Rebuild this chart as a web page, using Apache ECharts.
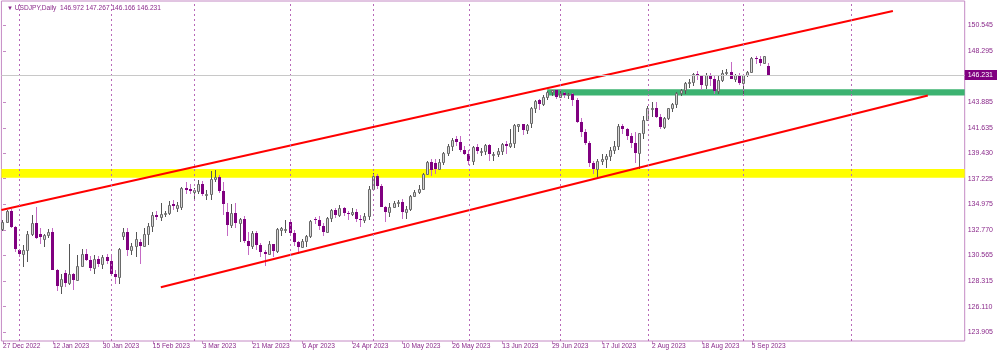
<!DOCTYPE html>
<html><head><meta charset="utf-8">
<script src="https://cdn.jsdelivr.net/npm/echarts@6/dist/echarts.min.js"></script>
<style>html,body{margin:0;padding:0;background:#fff}#c{width:1000px;height:354px}</style>
</head><body><div id="c"></div>
<script>
// USDJPY daily bars, 27 Dec 2022 .. 11 Sep 2023 (bar index = position)
const open  = [132.85,133.50,134.45,133.05, 131.00,130.65,131.00,132.45,133.40,132.45,132.00,132.35,132.55,129.25,127.90,129.00,128.15,128.90,128.45,129.60,130.70,130.20,129.45,130.25,129.85,130.40,
 130.10,128.95,128.65,132.20,132.60,131.05,131.40,131.70,131.35,132.45,133.15,134.10,133.90,134.15,134.25,135.05,134.70,134.75,136.45,136.30,
 136.10,136.15,136.75,135.85,135.90,137.20,137.35,136.15,134.35,133.20,134.20,133.40,133.75,131.85,131.40,132.50,131.45,130.85,130.70,131.55,130.90,132.80,132.75,
 133.45,132.50,131.70,131.30,131.80,132.20,133.75,133.65,133.10,132.60,133.80,134.50,134.10,134.70,134.20,134.15,134.35,133.70,133.65,133.95,
 136.30,137.45,136.60,134.80,134.30,134.80,135.10,135.20,134.30,134.55,135.70,136.10,136.35,137.60,138.70,138.60,138.05,138.70,139.45,140.05,140.65,140.45,139.75,
 139.35,138.80,139.95,139.60,139.65,140.15,139.35,139.40,139.60,140.25,140.10,140.30,141.80,141.95,141.45,142.05,143.35,144.05,143.70,144.35,144.75,144.90,
 144.35,144.70,144.45,144.60,144.05,142.15,141.30,140.35,138.55,138.05,138.80,138.90,139.20,139.75,140.10,141.80,141.50,140.90,140.30,139.45,141.15,
 142.30,143.35,143.40,142.60,141.75,142.50,143.35,143.75,144.65,144.95,145.55,145.60,146.35,146.10,145.40,146.20,145.90,144.80,145.80,146.40,146.50,145.90,146.20,
 145.55,146.20,146.50,147.70,147.65,147.30,146.972];
const high  = [133.60,134.50,134.55,133.10, 131.05,131.45,132.70,134.05,134.78,132.90,132.40,132.87,132.90,129.40,128.90,129.30,131.58,129.05,130.60,131.10,131.10,130.50,130.60,130.50,130.60,130.65,
 130.50,129.30,131.20,132.90,132.90,131.60,132.60,132.00,132.95,133.35,134.35,134.40,135.10,134.45,135.25,135.35,135.20,136.50,136.95,136.75,
 136.40,137.10,137.05,136.20,137.90,137.95,137.50,136.95,135.10,135.00,135.10,133.85,133.95,132.60,132.65,132.65,131.60,131.00,131.80,131.55,132.95,133.00,133.60,
 133.75,132.75,131.85,132.00,132.35,133.60,133.90,134.00,133.35,133.90,134.60,134.65,134.95,134.80,134.40,134.70,134.55,134.10,134.20,136.55,
 137.75,137.60,136.80,134.85,135.10,135.30,135.40,135.50,134.85,135.80,136.25,136.70,137.70,138.75,138.90,138.90,138.90,139.55,140.25,140.75,140.95,140.90,140.05,
 139.70,140.05,140.25,139.90,140.25,140.25,139.55,139.85,140.30,140.50,141.50,141.95,142.00,142.00,142.00,143.45,144.05,144.10,144.45,144.85,144.95,145.05,
 144.90,144.75,144.70,144.65,144.20,142.50,141.50,140.50,138.75,138.95,139.40,139.40,139.95,140.50,142.00,141.95,141.65,141.20,141.30,141.20,142.70,
 143.50,143.90,143.90,142.80,142.60,143.40,143.80,144.75,145.00,145.60,145.85,146.40,146.55,146.20,146.40,146.40,146.10,146.10,146.65,146.75,147.35,146.30,146.40,
 146.30,146.60,147.80,147.85,147.85,147.90,147.267];
const low   = [132.65,133.40,132.90,130.85, 130.40,129.55,129.95,132.20,131.95,131.55,131.30,132.10,129.25,127.45,127.20,127.80,127.98,127.58,128.30,129.55,130.10,129.20,128.95,129.55,129.40,129.80,
 128.90,128.10,128.10,131.90,130.50,130.60,130.45,129.80,131.25,131.50,132.60,133.60,133.55,133.90,134.10,134.50,134.30,134.50,135.90,135.85,
 135.30,135.85,135.75,135.40,135.40,136.95,135.95,134.10,132.25,132.90,132.95,131.75,131.60,130.55,131.10,131.05,130.40,129.65,130.60,130.40,130.80,132.20,132.50,
 132.35,131.40,130.65,131.20,131.30,132.05,133.25,132.80,132.20,132.55,133.50,133.85,133.90,133.95,133.60,134.00,133.50,133.00,133.40,133.60,
 136.20,136.30,134.75,133.50,133.90,134.75,134.80,133.75,133.75,134.45,135.60,135.90,136.30,137.55,137.45,137.60,137.95,138.40,139.20,139.60,140.10,139.55,139.25,
 138.45,138.45,139.40,139.20,139.25,138.80,138.75,139.10,139.30,139.40,139.90,139.90,141.30,141.00,141.10,141.60,142.95,143.15,143.55,144.05,144.40,144.10,
 144.20,144.25,144.15,143.50,142.05,140.80,140.15,138.20,137.65,137.25,138.45,138.15,138.80,139.35,139.70,141.10,140.60,139.85,138.60,138.10,140.70,
 142.20,142.55,142.50,141.55,141.50,142.30,143.00,143.40,144.40,144.60,145.10,145.30,145.75,144.95,145.00,145.30,144.55,144.60,145.60,146.25,145.85,145.60,145.40,
 144.45,146.05,146.40,147.20,147.00,147.25,146.166];
const close = [133.50,134.45,133.05,131.10, 130.65,131.00,132.45,133.40,132.10,132.15,132.35,132.55,129.25,127.90,128.55,128.15,128.90,128.45,129.60,130.70,130.20,129.45,130.25,129.85,130.40,130.10,
 128.95,128.65,131.15,132.60,131.05,131.40,132.00,131.35,132.45,133.15,134.10,133.90,134.15,134.25,134.95,134.85,134.90,136.45,136.20,136.15,
 136.20,136.75,135.85,135.90,137.20,137.35,136.15,135.00,133.20,134.20,133.40,133.70,131.85,131.40,132.50,131.45,130.85,130.70,131.55,130.90,132.85,132.90,132.85,
 132.50,131.70,131.30,131.80,132.20,133.55,133.65,133.10,132.60,133.80,134.50,134.10,134.70,134.20,134.15,134.35,133.70,133.65,133.95,136.30,
 137.45,136.60,134.80,134.30,134.80,135.10,135.20,134.30,134.55,135.70,136.10,136.35,137.60,138.70,137.95,138.05,138.70,139.45,140.05,140.60,140.45,139.75,139.35,
 138.80,139.95,139.60,139.65,140.15,139.35,139.40,139.60,140.20,140.10,140.30,141.85,141.95,141.45,141.90,143.35,143.95,143.70,144.35,144.75,144.90,144.35,
 144.70,144.45,144.60,144.05,142.15,141.30,140.35,138.55,138.05,138.80,138.90,139.20,139.75,140.10,141.80,141.50,140.90,140.30,139.45,141.15,142.30,
 143.35,143.40,142.60,141.75,142.50,143.35,143.75,144.65,144.95,145.55,145.60,146.35,146.10,145.40,146.20,145.90,144.80,145.80,146.40,146.50,145.90,146.20,145.55,
 146.20,146.50,147.70,147.65,147.30,147.85,146.231];

const tickIdx    = [0,12,24,36,48,60,72,84,96,108,120,132,144,156,168,180];
const tickLabels = ['27 Dec 2022','12 Jan 2023','30 Jan 2023','15 Feb 2023','3 Mar 2023','21 Mar 2023','6 Apr 2023','24 Apr 2023','10 May 2023','26 May 2023','13 Jun 2023','29 Jun 2023','17 Jul 2023','2 Aug 2023','18 Aug 2023','5 Sep 2023'];
const priceTicks = [150.545,148.295,143.885,141.635,139.430,137.225,134.975,132.770,130.565,128.315,126.110,123.905];
const lastPrice  = 146.231;
const header     = 'USDJPY,Daily  146.972 147.267 146.166 146.231';
const monthStarts = [4,26,46,69,89,112,134,155,178,204];
// drawn objects: [barIndex, price]
const upperChannel = [[-0.38,134.50],[213.9,151.786]];
const lowerChannel = [[37.93,127.79],[222.3,144.45]];
const yellowZone = [137.31,138.06];
const greenZone  = [144.45,144.99];
const greenStart = 130.8;

const X_MIN = -0.38, X_MAX = 231.16, Y_MIN = 123.123, Y_MAX = 152.655;
const TXT = '#8B2A8B', FRAME = '#C48AC4';

const bars = open.map((o,i)=>[i,o,high[i],low[i],close[i]]);

function renderItem(params, api){
  const i=api.value(0), o=api.value(1), h=api.value(2), l=api.value(3), c=api.value(4);
  const pO=api.coord([i,o]), pC=api.coord([i,c]), pH=api.coord([i,h]), pL=api.coord([i,l]);
  const cx=Math.floor(pO[0]);
  const bull=c>=o;
  const top=Math.round(Math.min(pO[1],pC[1])), bot=Math.round(Math.max(pO[1],pC[1]));
  const ch=[{type:'line',shape:{x1:cx+0.5,y1:Math.round(pH[1]),x2:cx+0.5,y2:Math.round(pL[1])},
    style:{stroke:bull?'#555555':'#C46AC4',lineWidth:1}}];
  if(bull){
    ch.push({type:'rect',shape:{x:cx-0.5,y:top+0.5,width:2,height:Math.max(bot-top,1)},style:{fill:'#D6D6D6',stroke:'#6A6A6A',lineWidth:1}});
  } else {
    ch.push({type:'rect',shape:{x:cx-1,y:top,width:3,height:Math.max(bot-top,1)},style:{fill:'#800080'}});
  }
  return {type:'group',children:ch};
}

const chart = echarts.init(document.getElementById('c'), null, {renderer:'canvas'});
chart.setOption({
  animation:false,
  backgroundColor:'#ffffff',
  title:{text:'{t|▼} '+header,left:2,top:0,textStyle:{fontFamily:'Liberation Sans',fontSize:6.6,color:TXT,fontWeight:'normal',
    rich:{t:{fontSize:6,color:TXT}}}},
  grid:{left:0,right:33,top:1,bottom:13,show:true,borderColor:FRAME,borderWidth:1,backgroundColor:'#fff'},
  xAxis:{type:'value',min:X_MIN,max:X_MAX,
    axisLine:{show:false},
    splitLine:{show:false},
    axisTick:{show:true,customValues:tickIdx,length:3,lineStyle:{color:FRAME}},
    axisLabel:{customValues:tickIdx,align:'left',margin:2,fontSize:6.6,fontFamily:'Liberation Sans',color:TXT,
      formatter:v=>{const k=tickIdx.indexOf(Math.round(v));return k>=0?tickLabels[k]:'';}}},
  yAxis:[{type:'value',position:'right',min:Y_MIN,max:Y_MAX,
    axisLine:{show:false},splitLine:{show:false},
    axisTick:{show:true,customValues:priceTicks,length:3,lineStyle:{color:FRAME}},
    axisLabel:{customValues:priceTicks,margin:3,fontSize:7,fontFamily:'Liberation Sans',color:TXT,formatter:v=>v.toFixed(3)}},
   {type:'value',position:'right',min:Y_MIN,max:Y_MAX,
    axisLine:{show:false},splitLine:{show:false},axisTick:{show:false},
    axisLabel:{customValues:[lastPrice],margin:0,fontSize:7,fontFamily:'Liberation Sans',color:'#ffffff',
      backgroundColor:'#800080',padding:[2,4,1,3],formatter:v=>v.toFixed(3)}}],
  series:[
    {type:'line',data:[],z:1,silent:true,
     markArea:{silent:true,itemStyle:{opacity:1},data:[
       [{xAxis:X_MIN,yAxis:yellowZone[0],itemStyle:{color:'#FFFF00'}},{xAxis:X_MAX,yAxis:yellowZone[1]}],
       [{xAxis:greenStart,yAxis:greenZone[0],itemStyle:{color:'#3CB371'}},{xAxis:X_MAX,yAxis:greenZone[1]}]
     ]},
     markLine:{silent:true,symbol:'none',label:{show:false},data:[
       ...monthStarts.map(v=>({xAxis:v,lineStyle:{color:'#B868B8',type:[2,3],width:1}})),
       {yAxis:lastPrice,lineStyle:{color:'#C8C8C8',type:'solid',width:1}}
     ]}},
    {type:'custom',name:'USDJPY',renderItem,data:bars,encode:{x:0,y:[1,2,3,4]},z:3,clip:true},
    {type:'line',data:upperChannel,symbol:'none',z:4,lineStyle:{color:'#FF0000',width:2},clip:true},
    {type:'line',data:lowerChannel,symbol:'none',z:4,lineStyle:{color:'#FF0000',width:2},clip:true}
  ]
});
</script></body></html>
